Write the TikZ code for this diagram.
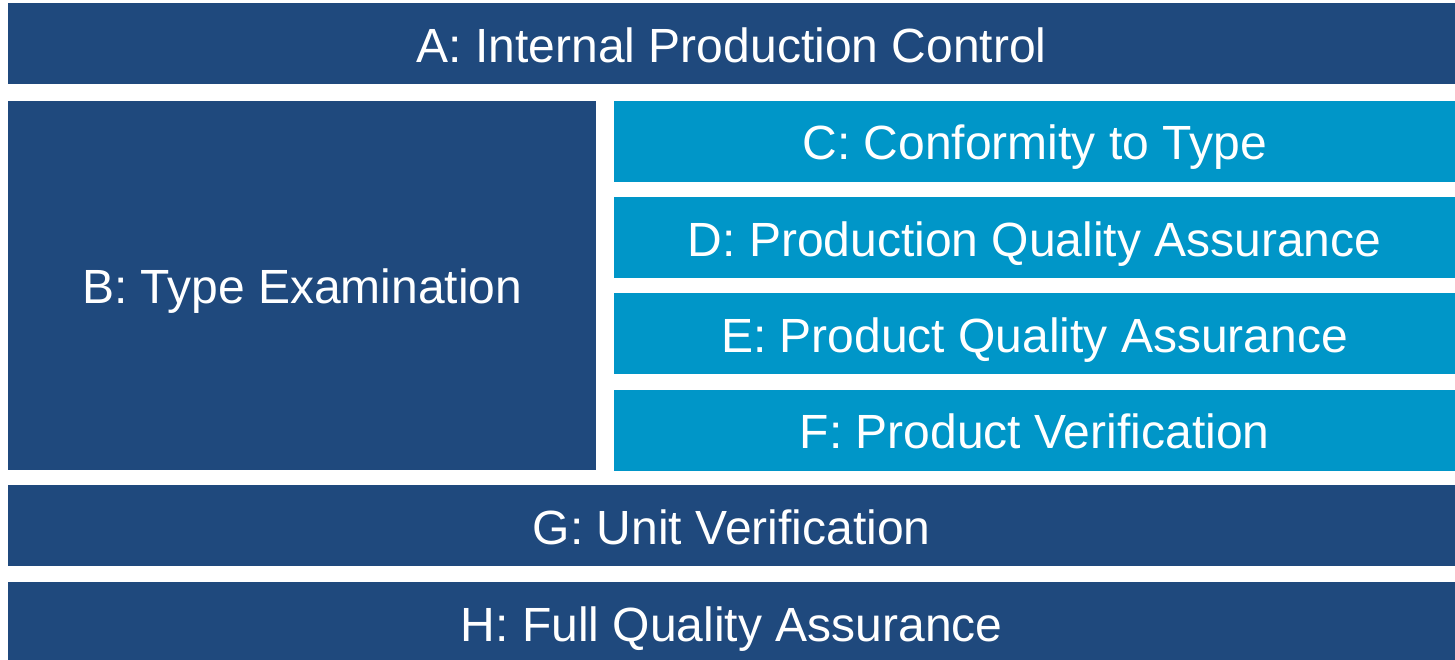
\documentclass[tikz,border=0pt]{standalone}
\usepackage{fontspec}
\setmainfont{Liberation Sans}
\usepackage{tikz}
\usetikzlibrary{positioning}
\definecolor{navy}{RGB}{31,73,125}
\definecolor{skyblue}{RGB}{0,150,200}
\tikzstyle{navybox} = [rectangle, fill=navy, text=white, inner sep=0pt, minimum height=81pt, text height=37pt, text depth=0pt, font=\fontsize{48}{58}\selectfont]
\tikzstyle{bluebox} = [navybox, fill=skyblue, minimum width=842pt]
\tikzstyle{widebox} = [navybox, minimum width=1447pt]

\begin{document}
\begin{tikzpicture}[x=1pt, y=-1pt]
    \useasboundingbox (0,0) rectangle (1455,660);
    \node[widebox, anchor=north west](modA) at (8,3) {A: Internal Production Control};
    \node[navybox, minimum width=588pt, minimum height=369pt, below=16pt of modA.south west, anchor=north west](modB) {B: Type Examination};
    \node[bluebox, right=17pt of modB.north east, anchor=north west](modC) {C: Conformity to Type};
    \node[bluebox, below=15pt of modC](modD) {D: Production Quality Assurance};
    \node[bluebox, below=15pt of modD](modE) {E: Product Quality Assurance};
    \node[bluebox, below=15pt of modE](modF) {F: Product Verification};
    \node[widebox, below=15pt of modB.south west, anchor=north west](modG) {G: Unit Verification};
    \node[widebox, below=16pt of modG.south west, anchor=north west](modH) {H: Full Quality Assurance};
\end{tikzpicture}
\end{document}
